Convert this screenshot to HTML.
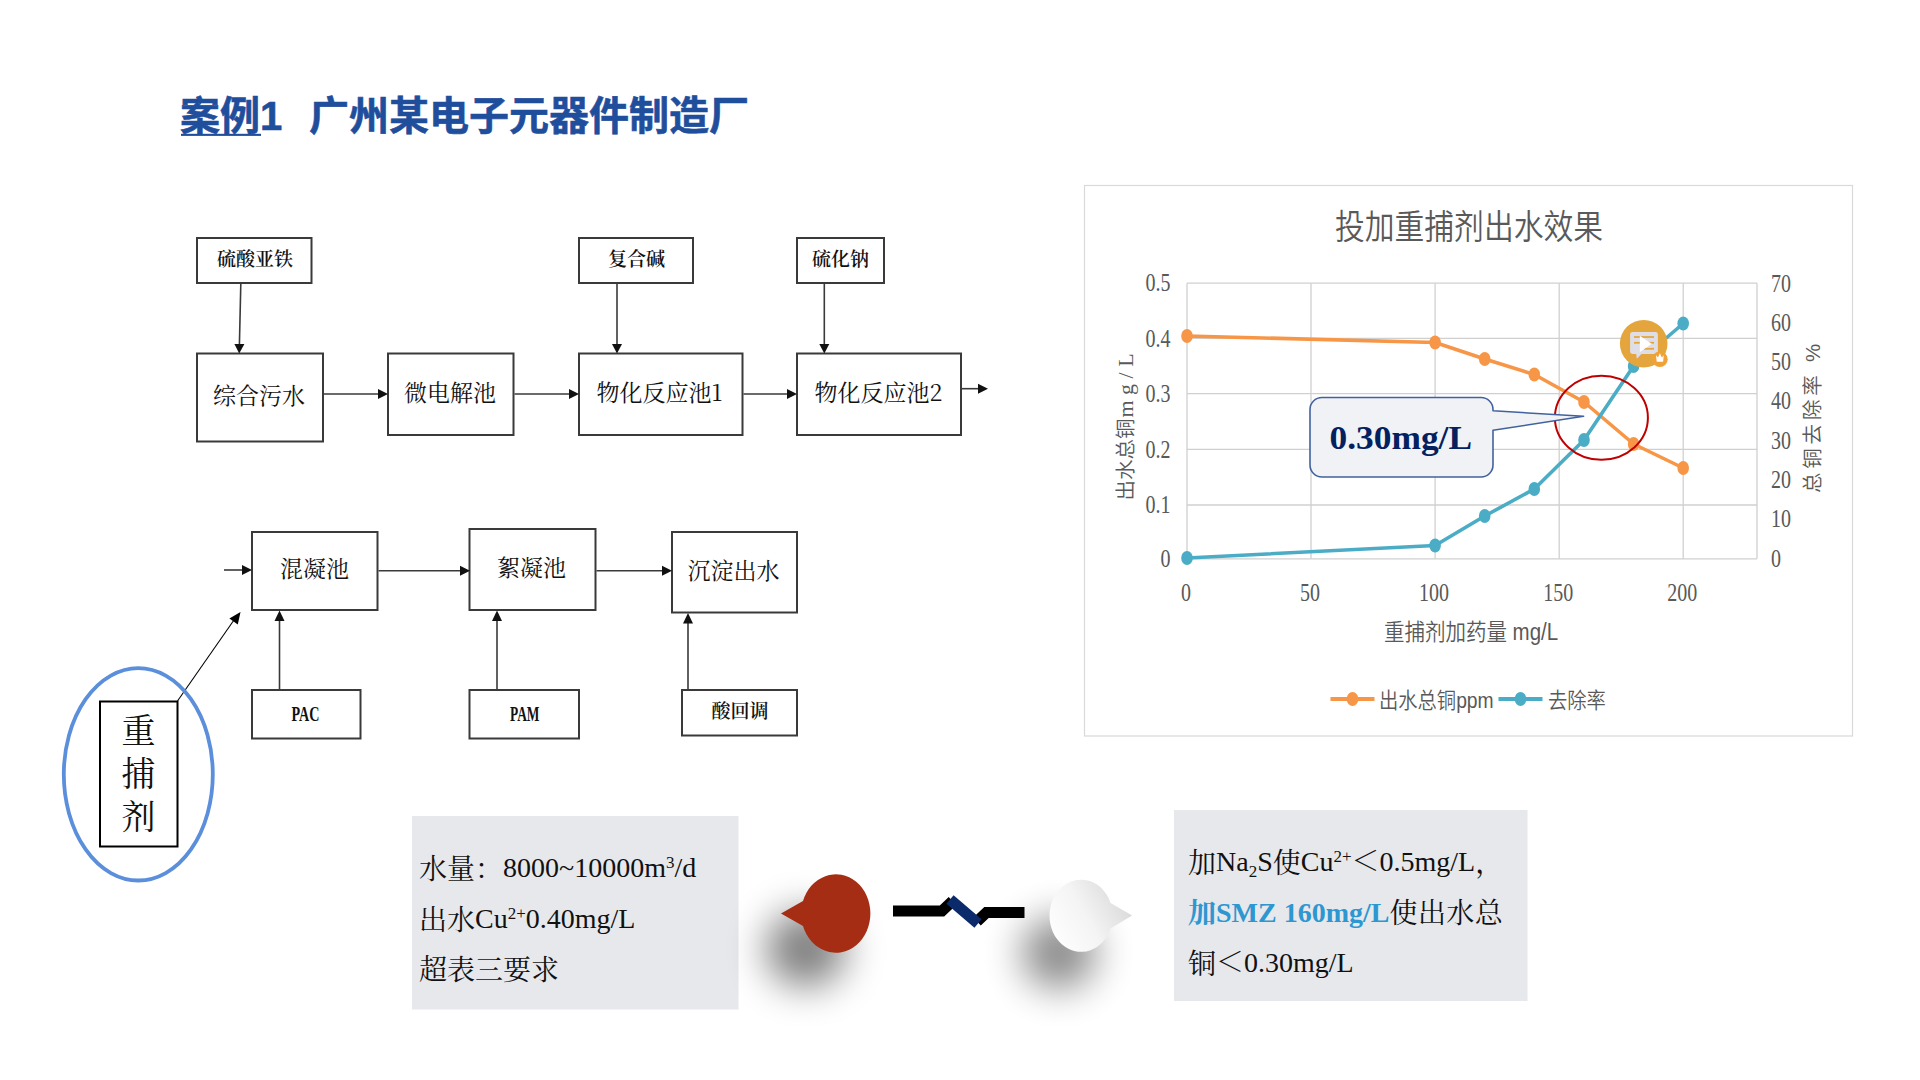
<!DOCTYPE html>
<html lang="zh-CN">
<head>
<meta charset="utf-8">
<title>案例1 广州某电子元器件制造厂</title>
<style>
html,body{margin:0;padding:0;background:#fff;}
body{width:1920px;height:1080px;overflow:hidden;position:relative;}
svg{position:absolute;left:0;top:0;}
.sans{font-family:"Liberation Sans","Noto Sans CJK SC",sans-serif;}
.serif{font-family:"Liberation Serif","Noto Serif CJK SC",serif;}
.song{font-family:"Noto Serif CJK SC","Liberation Serif",serif;}
</style>
</head>
<body>
<svg width="1920" height="1080" viewBox="0 0 1920 1080">
<defs>
<marker id="ah" markerWidth="10" markerHeight="10" refX="9" refY="5" orient="auto" markerUnits="userSpaceOnUse"><path d="M0,0 L10,5 L0,10 Z" fill="#111"/></marker>
<filter id="blur1" x="-150%" y="-150%" width="400%" height="400%"><feGaussianBlur stdDeviation="19"/></filter>
<linearGradient id="wg" x1="0" y1="0.75" x2="1" y2="0.25"><stop offset="0" stop-color="#fefefe"/><stop offset="0.45" stop-color="#f4f4f4"/><stop offset="1" stop-color="#d6d6d6"/></linearGradient>
</defs>

<!-- TITLE -->
<g id="title" class="sans" font-weight="700" font-size="40" fill="#1f4e9c" stroke="#1f4e9c" stroke-width="0.6">
<text x="180" y="130">案例1</text>
<text x="309" y="130">广州某电子元器件制造厂</text>
<rect x="181" y="133.800" width="80" height="2.100" stroke="none"/>
</g>

<!-- FLOW -->
<g id="flow" stroke="#3a3a3a" stroke-width="2" fill="#fff">
<!-- top row boxes -->
<rect x="197" y="238" width="114.5" height="45"/>
<rect x="579" y="238" width="114" height="45"/>
<rect x="797" y="238" width="87" height="45"/>
<rect x="197" y="353.5" width="126" height="88"/>
<rect x="388" y="353.5" width="125.5" height="81.5"/>
<rect x="579" y="353.5" width="163.5" height="81.5"/>
<rect x="797" y="353.5" width="164" height="81.5"/>
<!-- bottom row boxes -->
<rect x="252" y="532" width="125.5" height="78"/>
<rect x="469.5" y="529" width="126" height="81"/>
<rect x="672" y="532" width="125" height="80.500"/>
<rect x="252" y="690" width="108.500" height="48.500"/>
<rect x="469.5" y="690" width="109.500" height="48.500"/>
<rect x="682" y="690" width="115" height="45.500"/>
<!-- arrows -->
<g stroke-width="1.6" fill="none">
<path d="M240.8,284 L239.4,345"/>
<path d="M617,284 L617,345"/>
<path d="M824.3,284 L824.3,345"/>
<path d="M324,394 L379,394"/>
<path d="M514.500,394 L570,394"/>
<path d="M743.500,394 L788,394"/>
<path d="M962,388.700 L979,388.700"/>
<path d="M224,570 L243,570"/>
<path d="M378.500,570.700 L461,570.700"/>
<path d="M596.500,570.700 L663,570.700"/>
<path d="M279.500,689 L279.500,620"/>
<path d="M497,689 L497,620"/>
<path d="M688,689 L688,622"/>
<path d="M177.500,701 L234,620" stroke-width="1.100" stroke="#000"/>
</g>
<g fill="#111" stroke="none">
<path d="M234.4,344 L244.4,344 L239.200,353.500 Z"/>
<path d="M612,344 L622,344 L617,353.500 Z"/>
<path d="M819.3,344 L829.3,344 L824.3,353.500 Z"/>
<path d="M378,389 L378,399 L388,394 Z"/>
<path d="M569,389 L569,399 L579,394 Z"/>
<path d="M787,389 L787,399 L797,394 Z"/>
<path d="M978,383.700 L978,393.700 L988,388.700 Z"/>
<path d="M242,565 L242,575 L252,570 Z"/>
<path d="M460,565.700 L460,575.700 L470,570.700 Z"/>
<path d="M662,565.700 L662,575.700 L672,570.700 Z"/>
<path d="M274.500,621 L284.500,621 L279.500,610.500 Z"/>
<path d="M492,621 L502,621 L497,610.500 Z"/>
<path d="M683,623.500 L693,623.500 L688,613 Z"/>
<path d="M240.500,612 L237.8,624.500 L229.4,618.6 Z" fill="#000"/>
</g>
<!-- labels -->
<g class="song" stroke="none" fill="#111" text-anchor="middle">
<g font-size="19" font-weight="600">
<text x="255" y="266">硫酸亚铁</text>
<text x="636.500" y="266">复合碱</text>
<text x="840.500" y="266">硫化钠</text>
<text class="serif" x="291.5" y="720.5" font-size="21.5" font-weight="700" text-anchor="start" textLength="28" lengthAdjust="spacingAndGlyphs">PAC</text>
<text class="serif" x="510" y="720.5" font-size="21.5" font-weight="700" text-anchor="start" textLength="29.5" lengthAdjust="spacingAndGlyphs">PAM</text>
<text x="740" y="718">酸回调</text>
</g>
<g font-size="23" font-weight="400">
<text x="259" y="404">综合污水</text>
<text x="450" y="401">微电解池</text>
<text x="659.500" y="401">物化反应池1</text>
<text x="878.500" y="401">物化反应池2</text>
<text x="314.500" y="577">混凝池</text>
<text x="531.500" y="575.500">絮凝池</text>
<text x="733.500" y="579">沉淀出水</text>
</g>
</g>
<!-- ellipse + box -->
<ellipse cx="138.3" cy="774.3" rx="74.500" ry="106.200" fill="none" stroke="#5b8fdb" stroke-width="3.8"/>
<rect x="100" y="701.5" width="77.5" height="145" fill="#fff" stroke="#000" stroke-width="2"/>
<g class="song" stroke="none" fill="#111" text-anchor="middle" font-size="34" font-weight="400">
<text x="138.500" y="743">重</text>
<text x="138.500" y="786">捕</text>
<text x="138.500" y="829">剂</text>
</g>
</g>
<!-- CHART -->
<g id="chart">
<rect x="1084.5" y="185.5" width="768" height="550.5" fill="#fff" stroke="#d9d9d9" stroke-width="1.2"/>
<g fill="#595959">
<text class="sans" transform="translate(1469.0,239.0) scale(1,1.15)" font-size="29.8" text-anchor="middle" font-weight="350">投加重捕剂出水效果</text>
<g stroke="#d0d0d0" stroke-width="1.3"><line x1="1187.0" y1="558.8" x2="1757" y2="558.8"/><line x1="1187.0" y1="505.0" x2="1757" y2="505.0"/><line x1="1187.0" y1="449.4" x2="1757" y2="449.4"/><line x1="1187.0" y1="393.6" x2="1757" y2="393.6"/><line x1="1187.0" y1="338.4" x2="1757" y2="338.4"/><line x1="1187.0" y1="283.2" x2="1757" y2="283.2"/><line x1="1187.0" y1="283.2" x2="1187.0" y2="558.8"/><line x1="1311.0" y1="283.2" x2="1311.0" y2="558.8"/><line x1="1435.1" y1="283.2" x2="1435.1" y2="558.8"/><line x1="1559.2" y1="283.2" x2="1559.2" y2="558.8"/><line x1="1683.2" y1="283.2" x2="1683.2" y2="558.8"/><line x1="1757" y1="283.2" x2="1757" y2="558.8"/></g>
<text class="serif" transform="translate(1170.5,567.0) scale(1,1.25)" font-size="20" text-anchor="end" >0</text><text class="serif" transform="translate(1170.5,513.2) scale(1,1.25)" font-size="20" text-anchor="end" >0.1</text><text class="serif" transform="translate(1170.5,457.6) scale(1,1.25)" font-size="20" text-anchor="end" >0.2</text><text class="serif" transform="translate(1170.5,401.8) scale(1,1.25)" font-size="20" text-anchor="end" >0.3</text><text class="serif" transform="translate(1170.5,346.6) scale(1,1.25)" font-size="20" text-anchor="end" >0.4</text><text class="serif" transform="translate(1170.5,291.4) scale(1,1.25)" font-size="20" text-anchor="end" >0.5</text><text class="serif" transform="translate(1771.0,566.5) scale(1,1.25)" font-size="20" text-anchor="start" >0</text><text class="serif" transform="translate(1771.0,527.2) scale(1,1.25)" font-size="20" text-anchor="start" >10</text><text class="serif" transform="translate(1771.0,487.9) scale(1,1.25)" font-size="20" text-anchor="start" >20</text><text class="serif" transform="translate(1771.0,448.6) scale(1,1.25)" font-size="20" text-anchor="start" >30</text><text class="serif" transform="translate(1771.0,409.4) scale(1,1.25)" font-size="20" text-anchor="start" >40</text><text class="serif" transform="translate(1771.0,370.1) scale(1,1.25)" font-size="20" text-anchor="start" >50</text><text class="serif" transform="translate(1771.0,330.8) scale(1,1.25)" font-size="20" text-anchor="start" >60</text><text class="serif" transform="translate(1771.0,291.5) scale(1,1.25)" font-size="20" text-anchor="start" >70</text><text class="serif" transform="translate(1186.0,600.5) scale(1,1.25)" font-size="20" text-anchor="middle" >0</text><text class="serif" transform="translate(1310.0,600.5) scale(1,1.25)" font-size="20" text-anchor="middle" >50</text><text class="serif" transform="translate(1434.1,600.5) scale(1,1.25)" font-size="20" text-anchor="middle" >100</text><text class="serif" transform="translate(1558.2,600.5) scale(1,1.25)" font-size="20" text-anchor="middle" >150</text><text class="serif" transform="translate(1682.2,600.5) scale(1,1.25)" font-size="20" text-anchor="middle" >200</text>
<text class="sans" font-size="20.5" font-weight="350" text-anchor="start" transform="translate(1133,500.5) rotate(-90)">出水总铜</text><text class="serif" font-size="22" letter-spacing="5.5" transform="translate(1132.5,417.5) rotate(-90)">mg/L</text>
<text class="sans" font-size="20.5" font-weight="350" text-anchor="start" transform="translate(1819.5,493) rotate(-90)" letter-spacing="3.8">总铜去除率 %</text>
<text class="sans" transform="translate(1384.0,640.0) scale(1,1.13)" font-size="20.5" text-anchor="start" font-weight="350">重捕剂加药量 mg/L</text>
<text class="sans" transform="translate(1379.0,708.0) scale(1,1.13)" font-size="19.3" text-anchor="start" font-weight="350">出水总铜ppm</text>
<text class="sans" transform="translate(1548.0,708.0) scale(1,1.13)" font-size="19.3" text-anchor="start" font-weight="350">去除率</text>
</g>
<polyline points="1187.0,336.0 1435.1,342.5 1484.7,359.0 1534.3,374.5 1584.0,402.0 1633.6,444.0 1683.2,468.0" fill="none" stroke="#f79646" stroke-width="3.6" stroke-linejoin="round"/>
<ellipse cx="1187.0" cy="336.0" rx="5.8" ry="7" fill="#f79646"/><ellipse cx="1435.1" cy="342.5" rx="5.8" ry="7" fill="#f79646"/><ellipse cx="1484.7" cy="359.0" rx="5.8" ry="7" fill="#f79646"/><ellipse cx="1534.3" cy="374.5" rx="5.8" ry="7" fill="#f79646"/><ellipse cx="1584.0" cy="402.0" rx="5.8" ry="7" fill="#f79646"/><ellipse cx="1633.6" cy="444.0" rx="5.8" ry="7" fill="#f79646"/><ellipse cx="1683.2" cy="468.0" rx="5.8" ry="7" fill="#f79646"/>
<polyline points="1187.0,558.0 1435.1,545.5 1484.7,516.0 1534.3,489.0 1584.0,440.0 1633.6,366.0 1683.2,323.5" fill="none" stroke="#4bacc6" stroke-width="3.6" stroke-linejoin="round"/>
<ellipse cx="1187.0" cy="558.0" rx="5.8" ry="7" fill="#4bacc6"/><ellipse cx="1435.1" cy="545.5" rx="5.8" ry="7" fill="#4bacc6"/><ellipse cx="1484.7" cy="516.0" rx="5.8" ry="7" fill="#4bacc6"/><ellipse cx="1534.3" cy="489.0" rx="5.8" ry="7" fill="#4bacc6"/><ellipse cx="1584.0" cy="440.0" rx="5.8" ry="7" fill="#4bacc6"/><ellipse cx="1633.6" cy="366.0" rx="5.8" ry="7" fill="#4bacc6"/><ellipse cx="1683.2" cy="323.5" rx="5.8" ry="7" fill="#4bacc6"/>
<!-- legend -->
<line x1="1330.5" y1="699" x2="1374.5" y2="699" stroke="#f79646" stroke-width="3.8"/>
<ellipse cx="1352.5" cy="699" rx="5.8" ry="7" fill="#f79646"/>
<line x1="1498.5" y1="699" x2="1542.5" y2="699" stroke="#4bacc6" stroke-width="3.8"/>
<ellipse cx="1520.5" cy="699" rx="5.8" ry="7" fill="#4bacc6"/>
<!-- badge icon -->
<g id="badge">
<circle cx="1643.7" cy="343.7" r="23.8" fill="#e4a63c"/>
<path d="M1632.5,332 h23 a2.4,2.4 0 0 1 2.4,2.4 v17.200 a2.4,2.4 0 0 1 -2.4,2.4 h-14 l-4.700,4.8 l-0.6,-4.8 h-3.700 a2.4,2.4 0 0 1 -2.4,-2.4 v-17.200 a2.4,2.4 0 0 1 2.4,-2.4 z" fill="#dfdde6"/>
<g stroke="#e4a63c" stroke-width="1.8"><line x1="1634" y1="337" x2="1654" y2="337"/><line x1="1634" y1="342.8" x2="1654" y2="342.8"/><line x1="1644" y1="348.8" x2="1654" y2="348.8"/></g>
<path d="M1639.8,335.8 L1651.6,343.700 L1639.8,352.200 Z" fill="#fff"/>
<circle cx="1659.9" cy="359.3" r="7.8" fill="#f0a236"/>
<path d="M1656,355.3 l2,2.200 l1.9,-4.200 l1.9,4.200 l2,-2.200 l-0.700,6.500 h-6.4 z" fill="#fff"/>
</g>
<!-- red circle -->
<ellipse cx="1601.4" cy="417.8" rx="46.5" ry="42" fill="none" stroke="#c00000" stroke-width="2"/>
<!-- callout -->
<path d="M1322,397.5 H1481 a12,12 0 0 1 12,12 V410.8 L1583.6,416.3 L1493,430.3 V465 a12,12 0 0 1 -12,12 H1322 a12,12 0 0 1 -12,-12 V409.5 a12,12 0 0 1 12,-12 z" fill="#f1f2f5" stroke="#41629f" stroke-width="1.6" stroke-linejoin="round"/>
<text class="serif" x="1329.5" y="449" font-size="34.5" font-weight="700" fill="#04215f" textLength="142.5" lengthAdjust="spacingAndGlyphs">0.30mg/L</text>
</g>
<!-- BOTTOM -->
<g id="bottom">
<rect x="412" y="816" width="326.5" height="193.5" fill="#e7e8ec"/>
<rect x="1174" y="810" width="353.5" height="191" fill="#e7e8ec"/>
<!-- shadows -->
<ellipse cx="806" cy="949" rx="40" ry="38" fill="#000" opacity="0.5" filter="url(#blur1)"/>
<ellipse cx="1059" cy="953" rx="37" ry="36" fill="#000" opacity="0.46" filter="url(#blur1)"/>
<!-- red bubble -->
<path d="M781,913.5 L803,901 A34.6,39.2 0 1 1 803,926 Z" fill="#a52d14"/>
<!-- white bubble -->
<path d="M1132.2,915.6 L1110.5,903 A31.5,36.1 0 1 0 1110.5,928.5 Z" fill="url(#wg)"/>
<!-- connector -->
<g fill="none" stroke-width="11" stroke-linejoin="miter">
<path d="M893,911 H942 L952.5,901" stroke="#000"/>
<path d="M977,921.5 L986.5,912.5 H1024.5" stroke="#000"/>
<path d="M950,899.5 L978,923.5" stroke="#0b2a6b"/>
</g>
<!-- text -->
<g class="serif" font-size="28" fill="#111">
<text x="419" y="878.5">水量：<tspan dy="-1.5">8000~10000m</tspan><tspan font-size="17" dy="-9">3</tspan><tspan dy="9">/d</tspan></text>
<text x="419" y="929.5">出水<tspan dy="-1.5">Cu</tspan><tspan font-size="17" dy="-9">2+</tspan><tspan dy="9">0.40mg/L</tspan></text>
<text x="419" y="979.5">超表三要求</text>
<text x="1188" y="872.5">加<tspan dy="-1.5">Na</tspan><tspan font-size="17" dy="6">2</tspan><tspan dy="-6">S</tspan><tspan dy="1.5">使</tspan><tspan dy="-1.5">Cu</tspan><tspan font-size="17" dy="-9">2+</tspan><tspan dy="9">＜0.5mg/L</tspan><tspan dy="1.5">，</tspan></text>
<text x="1188" y="923"><tspan font-weight="700" fill="#2e97d1">加<tspan dy="-1.5">SMZ 160mg/L</tspan></tspan><tspan letter-spacing="0.4" dy="1.5">使出水总</tspan></text>
<text x="1188" y="973.5">铜<tspan dy="-1.5">＜0.30mg/L</tspan></text>
</g>
</g>
</svg>
</body>
</html>
